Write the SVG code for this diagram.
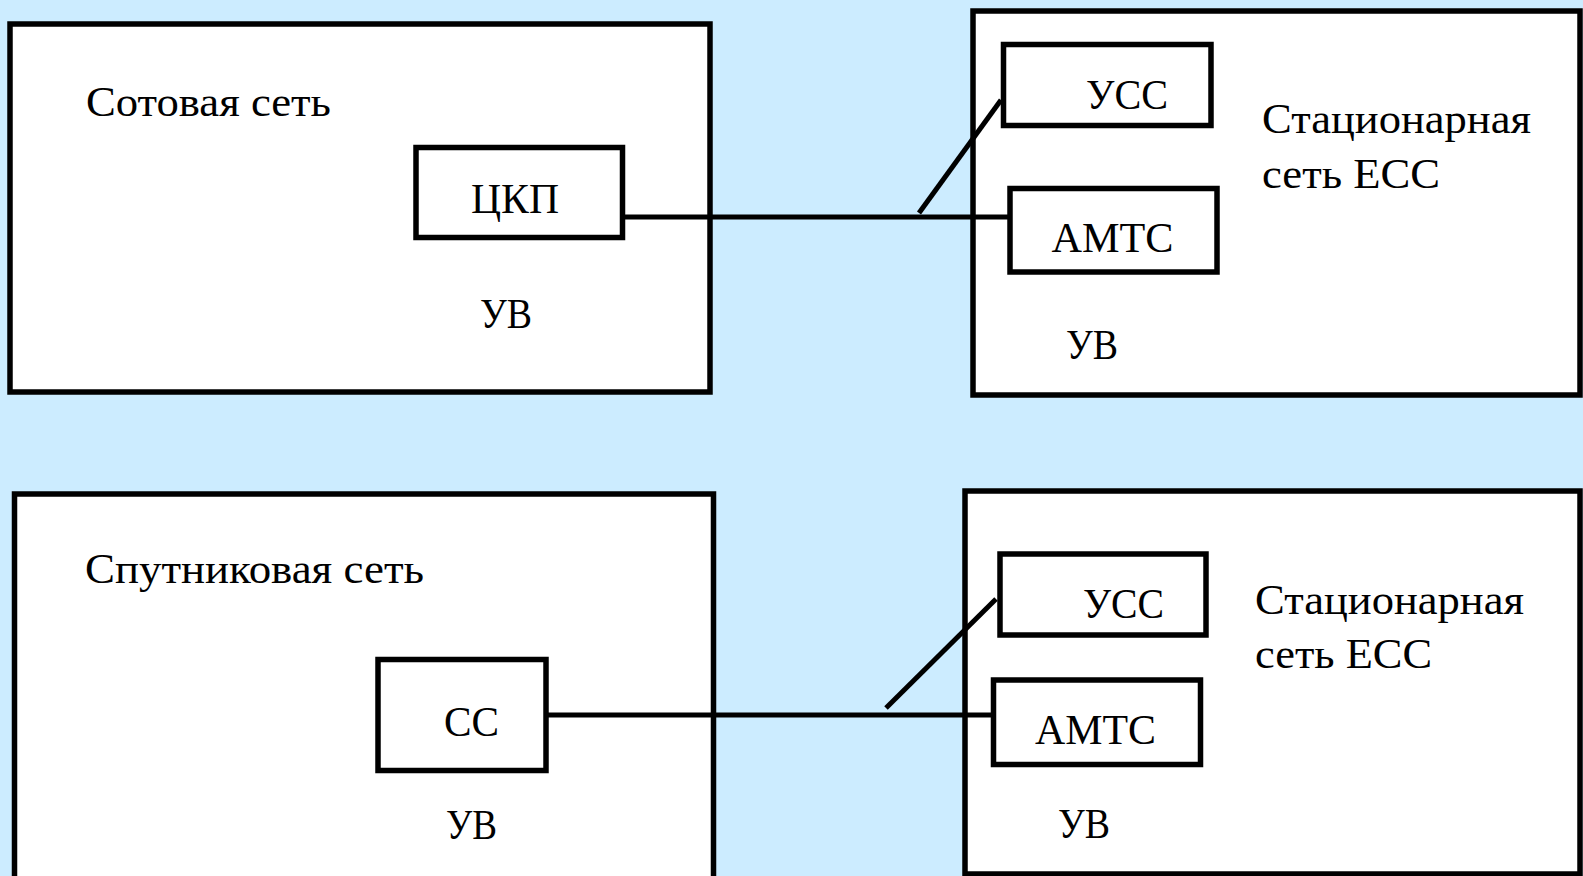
<svg xmlns="http://www.w3.org/2000/svg" width="1583" height="876" viewBox="0 0 1583 876">
  <style>
    .net { fill: #ffffff; stroke: #000000; stroke-width: 5.5; }
    .unit { fill: #ffffff; stroke: #000000; stroke-width: 5.5; }
    .link { fill: none; stroke: #000000; stroke-width: 5; }
  </style>
  <rect x="0" y="0" width="1583" height="876" fill="#CCECFF"/>

  <g font-family="Liberation Serif, DejaVu Serif, serif" font-size="43" fill="#000000">
  <!-- upper row: cellular network linked to fixed network -->
  <g id="cellular-net">
    <rect class="net" x="10" y="24" width="700" height="368"/>
    <text x="86" y="116" textLength="245" lengthAdjust="spacingAndGlyphs">Сотовая сеть</text>
    <text x="480" y="328" textLength="52" lengthAdjust="spacingAndGlyphs">УВ</text>
  </g>
  <g id="ckp">
    <rect class="unit" x="416" y="147.5" width="206.5" height="90"/>
    <text x="471" y="213" textLength="88" lengthAdjust="spacingAndGlyphs">ЦКП</text>
  </g>
  <g id="fixed-net-1">
    <rect class="net" x="973" y="11" width="607" height="384"/>
    <text x="1262" y="133" textLength="269" lengthAdjust="spacingAndGlyphs">Стационарная</text>
    <text x="1262" y="188" textLength="178" lengthAdjust="spacingAndGlyphs">сеть ЕСС</text>
    <text x="1066" y="359" textLength="52" lengthAdjust="spacingAndGlyphs">УВ</text>
  </g>
  <g id="ucc-1">
    <rect class="unit" x="1003.5" y="44.5" width="207.5" height="81"/>
    <text x="1086" y="109" textLength="82" lengthAdjust="spacingAndGlyphs">УСС</text>
  </g>
  <g id="amtc-1">
    <rect class="unit" x="1010" y="188.5" width="207" height="83.5"/>
    <text x="1051.5" y="251.5" textLength="122" lengthAdjust="spacingAndGlyphs">АМТС</text>
  </g>

  <!-- lower row: satellite network linked to fixed network -->
  <g id="satellite-net">
    <rect class="net" x="14.5" y="494" width="699" height="400"/>
    <text x="85" y="583" textLength="339" lengthAdjust="spacingAndGlyphs">Спутниковая сеть</text>
    <text x="446" y="839" textLength="51" lengthAdjust="spacingAndGlyphs">УВ</text>
  </g>
  <g id="cc">
    <rect class="unit" x="378" y="659.5" width="168" height="111"/>
    <text x="444" y="736" textLength="55" lengthAdjust="spacingAndGlyphs">СС</text>
  </g>
  <g id="fixed-net-2">
    <rect class="net" x="965" y="491" width="615" height="383"/>
    <text x="1255" y="614" textLength="269" lengthAdjust="spacingAndGlyphs">Стационарная</text>
    <text x="1255" y="668" textLength="177" lengthAdjust="spacingAndGlyphs">сеть ЕСС</text>
    <text x="1058" y="838" textLength="52" lengthAdjust="spacingAndGlyphs">УВ</text>
  </g>
  <g id="ucc-2">
    <rect class="unit" x="1000" y="554" width="206" height="81"/>
    <text x="1083" y="618" textLength="81" lengthAdjust="spacingAndGlyphs">УСС</text>
  </g>
  <g id="amtc-2">
    <rect class="unit" x="993.5" y="680" width="207" height="84.5"/>
    <text x="1035" y="744" textLength="121" lengthAdjust="spacingAndGlyphs">АМТС</text>
  </g>
  </g>

  <!-- trunk lines between switching centres -->
  <g id="connectors">
    <path class="link" d="M622 217 H1010"/>
    <path class="link" d="M919 213 L1001 100"/>
    <path class="link" d="M546 715 H993.5"/>
    <path class="link" d="M886 708 L996 599"/>
  </g>
</svg>
